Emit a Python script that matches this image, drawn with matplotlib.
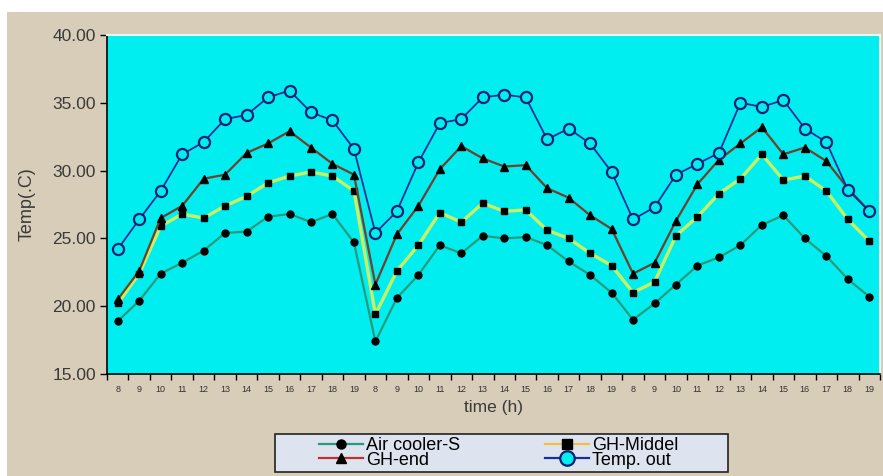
import matplotlib.pyplot as plt
from matplotlib.patches import Rectangle

# hours of the three days
hours = [8, 9, 10, 11, 12, 13, 14, 15, 16, 17, 18, 19] * 3

air_cooler = [18.9, 20.4, 22.4, 23.2, 24.1, 25.4, 25.5, 26.6, 26.8, 26.2, 26.8, 24.7,
              17.4, 20.6, 22.3, 24.5, 23.9, 25.2, 25.0, 25.1, 24.5, 23.3, 22.3, 21.0,
              19.0, 20.2, 21.6, 23.0, 23.6, 24.5, 26.0, 26.7, 25.0, 23.7, 22.0, 20.7]
gh_middel = [20.2, 22.4, 25.9, 26.8, 26.5, 27.4, 28.1, 29.1, 29.6, 29.9, 29.6, 28.5,
             19.4, 22.6, 24.5, 26.9, 26.2, 27.6, 27.0, 27.1, 25.6, 25.0, 23.9, 23.0,
             21.0, 21.8, 25.2, 26.6, 28.3, 29.4, 31.2, 29.3, 29.6, 28.5, 26.4, 24.8]
gh_end = [20.5, 22.6, 26.5, 27.4, 29.4, 29.7, 31.3, 32.0, 32.9, 31.7, 30.5, 29.7,
          21.6, 25.3, 27.4, 30.1, 31.8, 30.9, 30.3, 30.4, 28.7, 28.0, 26.7, 25.7,
          22.4, 23.2, 26.3, 29.0, 30.8, 32.0, 33.2, 31.2, 31.7, 30.7, 28.7, 27.0]
temp_out = [24.2, 26.4, 28.5, 31.2, 32.1, 33.8, 34.1, 35.4, 35.9, 34.3, 33.7, 31.6,
            25.4, 27.0, 30.6, 33.5, 33.8, 35.4, 35.6, 35.4, 32.3, 33.1, 32.0, 29.9,
            26.4, 27.3, 29.7, 30.5, 31.3, 35.0, 34.7, 35.2, 33.1, 32.1, 28.6, 27.0]

y_ticks = [15, 20, 25, 30, 35, 40]

plt.rcParams['font.family'] = ['Liberation Sans', 'DejaVu Sans']

fig = plt.figure(figsize=(8.83, 4.76), dpi=100, facecolor='white')
# beige background of the chart area
bg = Rectangle((7 / 883, 0), 1, 1 - 12 / 476, transform=fig.transFigure,
               facecolor='#d8cdb8', edgecolor='none', zorder=-5)
fig.add_artist(bg)

ax = fig.add_axes([107 / 883, 1 - 374 / 476, 773 / 883, 339 / 476])
ax.set_zorder(1)
ax.set_facecolor('#00eef0')

x = list(range(len(hours)))
l1, = ax.plot(x, air_cooler, color='#2a9a7c', lw=1.6, marker='o', ms=5,
              mfc='black', mec='black', label='Air cooler-S')
l2, = ax.plot(x, gh_middel, color='#c8f064', lw=2.4, marker='s', ms=5,
              mfc='black', mec='black', label='GH-Middel')
l3, = ax.plot(x, gh_end, color='#70402c', lw=1.6, marker='^', ms=6,
              mfc='black', mec='black', label='GH-end')
l4, = ax.plot(x, temp_out, color='#1a2f95', lw=1.3, marker='o', ms=8,
              mfc='#00eef0', mec='#0a2070', mew=1.6, label='Temp. out')

ax.set_xlim(-0.5, len(hours) - 0.5)
ax.set_ylim(15, 40)
ax.set_yticks(y_ticks)
ax.set_yticklabels(['%.2f' % v for v in y_ticks], fontsize=12.5, color='#3a3a3a')
ax.tick_params(axis='y', direction='out', length=5, width=1, pad=3)
ax.set_xticks(x)
ax.set_xticklabels([str(h) for h in hours], fontsize=6.5, color='#333333')
ax.tick_params(axis='x', which='major', length=0, pad=8)
ax.set_xticks([i - 0.5 for i in range(len(hours) + 1)], minor=True)
ax.tick_params(axis='x', which='minor', direction='out', length=4, width=1)

for s in ['top', 'right']:
    ax.spines[s].set_color('#e8f8f8')
    ax.spines[s].set_linewidth(1.5)
for s in ['left', 'bottom']:
    ax.spines[s].set_color('black')
    ax.spines[s].set_linewidth(1.2)

ax.set_ylabel('Temp(.C)', fontsize=13, color='#3a3a3a', labelpad=12)
ax.set_xlabel('time (h)', fontsize=12.5, color='#3a3a3a', labelpad=4)

# legend box
box = Rectangle((275 / 883, 1 - 472 / 476), 453 / 883, 38 / 476,
                transform=fig.transFigure, facecolor='#dde4ef',
                edgecolor='#222222', lw=1.2, zorder=2)
fig.add_artist(box)
leg = fig.legend(handles=[l1, l3, l2, l4], ncol=2, frameon=False,
                 loc='center left', bbox_to_anchor=(310 / 883, 1 - 453 / 476),
                 fontsize=13, handlelength=2.45, handletextpad=0.15,
                 labelspacing=-0.15, columnspacing=4.7, borderpad=0,
                 markerscale=1.3)
leg.set_zorder(3)
legend_colors = ['#2a9a7c', '#c03030', '#f0c040', '#1a2f95']
for line, c in zip(leg.get_lines(), legend_colors):
    line.set_color(c)
    line.set_linewidth(1.6)

plt.savefig('out.png', dpi=100, facecolor=fig.get_facecolor())
